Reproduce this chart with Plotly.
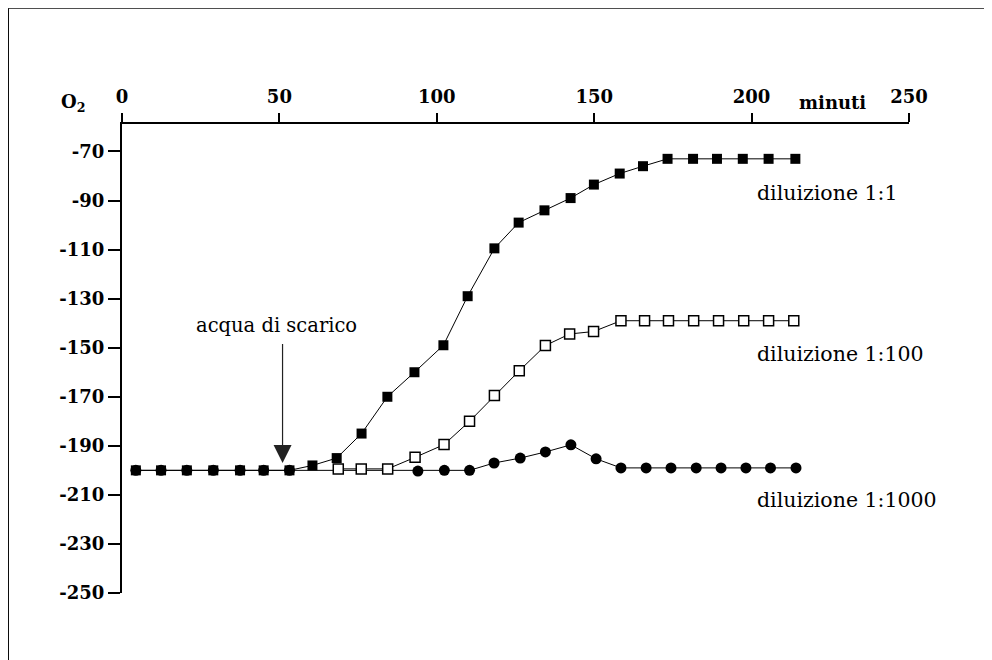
import plotly.graph_objects as go

# ---- data (minutes, O2 potential) ----
t_11 = [4.4, 12.4, 20.6, 29.0, 37.5, 45.0, 53.2, 60.5, 68.2, 76.1, 84.3, 92.9, 102.1, 109.8,
        118.3, 126.0, 134.2, 142.5, 149.9, 158.1, 165.5, 173.3, 181.4, 189.0, 197.2, 205.4, 213.9]
o2_11 = [-200, -200, -200, -200, -200, -200, -200, -198, -195, -185, -170, -160, -149, -129,
         -109.5, -99, -94, -89, -83.5, -79, -76, -73, -73, -73, -73, -73, -73]

t_1100 = [68.7, 76.0, 84.4, 93.1, 102.3, 110.4, 118.3, 126.2, 134.5, 142.2, 149.8, 158.5,
          166.0, 173.6, 181.6, 189.5, 197.5, 205.4, 213.4]
o2_1100 = [-199.4, -199.4, -199.4, -194.7, -189.5, -180, -169.5, -159.4, -149.1, -144.4, -143.4,
           -139, -139, -139, -139, -139, -139, -139, -139]

t_11000 = [4.4, 12.4, 20.6, 29.0, 37.5, 45.0, 53.2, 94.0, 102.4, 110.4, 118.2, 126.5, 134.5,
           142.6, 150.6, 158.5, 166.5, 174.4, 182.4, 190.3, 198.2, 206.0, 214.1]
o2_11000 = [-200, -200, -200, -200, -200, -200, -200, -200.3, -200, -200, -197, -195, -192.5,
            -189.6, -195.3, -199, -199, -199, -199, -199, -199, -199, -199]

x_ticks = [0, 50, 100, 150, 200, 250]
y_ticks = [-70, -90, -110, -130, -150, -170, -190, -210, -230, -250]

labels = ["diluizione 1:1", "diluizione 1:100", "diluizione 1:1000"]
label_y = [-87, -152.5, -212]
label_x = 201.0

arrow_text = "acqua di scarico"
arrow_x, arrow_y = 51.0, -197
x_title = "minuti"
y_title = "O<sub>2</sub>"

SERIF = "DejaVu Serif"

# layout geometry (figure pixels)
L, R, T, B = 114.0, 91.3, 116.3, 74.7
PW = 992 - L - R
PH = 660 - T - B


def px_to_paper_x(px):
    return (px - L) / PW


def px_to_paper_y(py):
    return (660 - B - py) / PH


fig = go.Figure()
fig.add_trace(go.Scatter(x=t_11, y=o2_11, mode="lines+markers",
                         line=dict(color="black", width=1),
                         marker=dict(symbol="square", size=10, color="black"),
                         showlegend=False))
fig.add_trace(go.Scatter(x=t_11000, y=o2_11000, mode="lines+markers",
                         line=dict(color="black", width=1),
                         marker=dict(symbol="circle", size=11, color="black"),
                         showlegend=False))
fig.add_trace(go.Scatter(x=t_1100, y=o2_1100, mode="lines+markers",
                         line=dict(color="black", width=1),
                         marker=dict(symbol="square", size=10, color="white",
                                     line=dict(color="black", width=1.5)),
                         showlegend=False))

tickfont = dict(family=SERIF, size=18, color="black", weight="bold")

fig.update_layout(
    width=992, height=660,
    margin=dict(l=L, r=R, t=T, b=B),
    paper_bgcolor="white", plot_bgcolor="white",
    xaxis=dict(range=[0, 250], side="top", showline=True, linecolor="black", linewidth=2,
               ticks="outside", ticklen=9, tickwidth=2, tickcolor="black",
               tickvals=x_ticks, ticktext=[str(v) for v in x_ticks], ticklabelstandoff=3,
               tickfont=tickfont, showgrid=False, zeroline=False, anchor="y"),
    xaxis2=dict(range=[0, 250], side="top", overlaying="x", ticks="inside", ticklen=9,
                tickwidth=2, tickcolor="black", tickvals=x_ticks, showticklabels=False,
                showgrid=False, zeroline=False, showline=False, anchor="y"),
    yaxis=dict(range=[-250, -58.8], showline=True, linecolor="black", linewidth=2,
               ticks="outside", ticklen=12, tickwidth=2, tickcolor="black",
               tickvals=y_ticks, ticktext=[str(v) for v in y_ticks],
               tickfont=tickfont, showgrid=False, zeroline=False, anchor="x"),
    yaxis2=dict(range=[-250, -58.8], overlaying="y", side="left", ticks="inside", ticklen=8,
                tickwidth=2, tickcolor="black", tickvals=y_ticks, showticklabels=False,
                showgrid=False, zeroline=False, showline=False, anchor="x"),
)

# frame border (top and left edges of the figure)
fig.add_shape(type="rect", xref="paper", yref="paper",
              x0=px_to_paper_x(0.5), x1=px_to_paper_x(1100),
              y0=px_to_paper_y(800), y1=px_to_paper_y(0.5),
              line=dict(color="black", width=1), fillcolor="rgba(0,0,0,0)", layer="below")

# axis titles
fig.add_annotation(xref="paper", yref="paper", x=px_to_paper_x(824), y=px_to_paper_y(95),
                   xanchor="center", yanchor="middle",
                   text="<b>%s</b>" % x_title, showarrow=False,
                   font=dict(family=SERIF, size=18, color="black"))
fig.add_annotation(xref="paper", yref="paper", x=px_to_paper_x(65), y=px_to_paper_y(95),
                   xanchor="center", yanchor="middle",
                   text="<b>%s</b>" % y_title, showarrow=False,
                   font=dict(family=SERIF, size=18, color="black"))

for txt, yy in zip(labels, label_y):
    fig.add_annotation(x=label_x, y=yy, text=txt, showarrow=False, xanchor="left",
                       font=dict(family=SERIF, size=20.5, color="black"))

# arrow with its label ("&nbsp;" pads the label so the arrow sits right of its centre)
fig.add_annotation(x=arrow_x, y=arrow_y, ax=0, ay=-137,
                   text=arrow_text + "&nbsp;&nbsp;", showarrow=True,
                   arrowhead=2, arrowsize=3, arrowwidth=1.2, arrowcolor="#222222",
                   startstandoff=5,
                   font=dict(family=SERIF, size=19.5, color="black"))

fig.write_html("out.html")
